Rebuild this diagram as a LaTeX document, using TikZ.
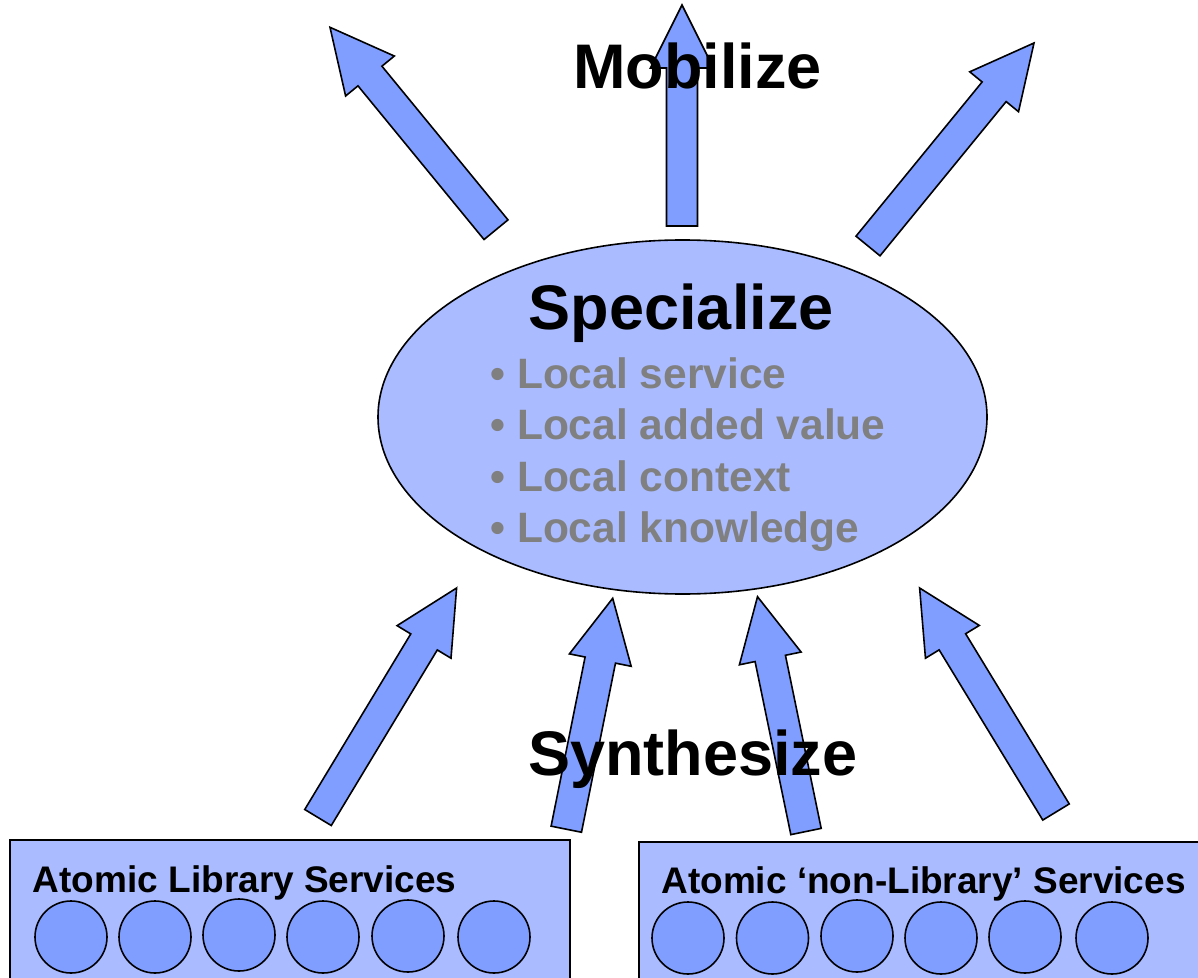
\documentclass[tikz,border=0pt]{standalone}
\usepackage{fontspec}
\setmainfont{Liberation Sans}
\usetikzlibrary{calc,shapes.geometric}
\definecolor{lightfill}{RGB}{170,187,255}
\definecolor{darkfill}{RGB}{128,158,255}
\definecolor{bulletgray}{RGB}{128,128,128}
\tikzset{
  blockarrow/.style={draw=black,line width=0.8pt,fill=darkfill,line join=miter},
  servicebox/.style={draw=black,line width=1pt,fill=lightfill},
  atom/.style={circle,draw=black,line width=0.8pt,fill=darkfill,minimum size=36pt,inner sep=0pt},
  bigword/.style={anchor=base west,inner sep=0pt,font=\fontsize{31.5}{36}\selectfont\bfseries,text=black},
  bulletline/.style={anchor=base west,inner sep=0pt,font=\fontsize{21.25}{25.5}\selectfont\bfseries,text=bulletgray},
  boxtitle/.style={anchor=base west,inner sep=0pt,font=\fontsize{18.5}{22}\selectfont\bfseries,text=black},
}
\newcommand{\blockarrowdraw}[2]{%
  \path[blockarrow] let \p1=(#1), \p2=(#2),
    \n1={atan2(\y2-\y1,\x2-\x1)},
    \n2={veclen(\x2-\x1,\y2-\y1)-31.5pt} in
  ($(\p1)+(\n1+90:7.75pt)$)
  -- ($(\p1)+(\n1:\n2)+(\n1+90:7.75pt)$)
  -- ($(\p1)+(\n1:\n2)+(\n1+90:15.75pt)$)
  -- (\p2)
  -- ($(\p1)+(\n1:\n2)+(\n1-90:15.75pt)$)
  -- ($(\p1)+(\n1:\n2)+(\n1-90:7.75pt)$)
  -- ($(\p1)+(\n1-90:7.75pt)$) -- cycle;}
\begin{document}
\begin{tikzpicture}[x=0.5pt,y=-0.5pt]
\useasboundingbox (0,0) rectangle (1198,978);
\clip (0,0) rectangle (1198,978);
% service boxes
\path[servicebox] (10,840) rectangle (570,1010);
\path[servicebox] (639,841.5) rectangle (1215,1010);
\node[boxtitle] (lib) at (32.5,892) {Atomic Library Services};
\node[boxtitle] (nonlib) at (661,893) {Atomic ‘non-Library’ Services};
\node[atom] (l1) at (71,937) {};
\node[atom] (l2) at (155,937) {};
\node[atom] (l3) at (239,935) {};
\node[atom] (l4) at (323,937) {};
\node[atom] (l5) at (408,936) {};
\node[atom] (l6) at (494,937) {};
\node[atom] (n1) at (688,938) {};
\node[atom] (n2) at (772.5,938) {};
\node[atom] (n3) at (857,936) {};
\node[atom] (n4) at (941,938) {};
\node[atom] (n5) at (1025,937) {};
\node[atom] (n6) at (1112,938) {};
% arrow anchor points
\coordinate (t1s) at (496,229.7);  \coordinate (t1e) at (330,27.3);
\coordinate (t2s) at (682,226);    \coordinate (t2e) at (682,5);
\coordinate (t3s) at (868,246);    \coordinate (t3e) at (1034,43);
\coordinate (b1s) at (318,817.5);  \coordinate (b1e) at (456.6,588);
\coordinate (b2s) at (566.3,829.2);\coordinate (b2e) at (612.7,598.3);
\coordinate (b3s) at (806,831.5);  \coordinate (b3e) at (757.5,596.7);
\coordinate (b4s) at (1056,812);   \coordinate (b4e) at (919.6,588);
\blockarrowdraw{t1s}{t1e}
\blockarrowdraw{t2s}{t2e}
\blockarrowdraw{t3s}{t3e}
\blockarrowdraw{b1s}{b1e}
\blockarrowdraw{b2s}{b2e}
\blockarrowdraw{b3s}{b3e}
\blockarrowdraw{b4s}{b4e}
% central ellipse
\node[ellipse,draw=black,line width=0.8pt,fill=lightfill,minimum width=304.5pt,minimum height=177pt,inner sep=0pt] (spec) at (682.5,417) {};
% texts
\node[bigword] (mob) at (573,88.5) {Mobilize};
\node[bigword] (spw) at (528.5,329) {Specialize};
\node[bigword] (syn) at (528,775.5) {Synthesize};
\node[bulletline] (bl1) at (490,388) {• Local service};
\node[bulletline] (bl2) at (490,439) {• Local added value};
\node[bulletline] (bl3) at (490,491) {• Local context};
\node[bulletline] (bl4) at (490,542) {• Local knowledge};
\end{tikzpicture}
\end{document}
